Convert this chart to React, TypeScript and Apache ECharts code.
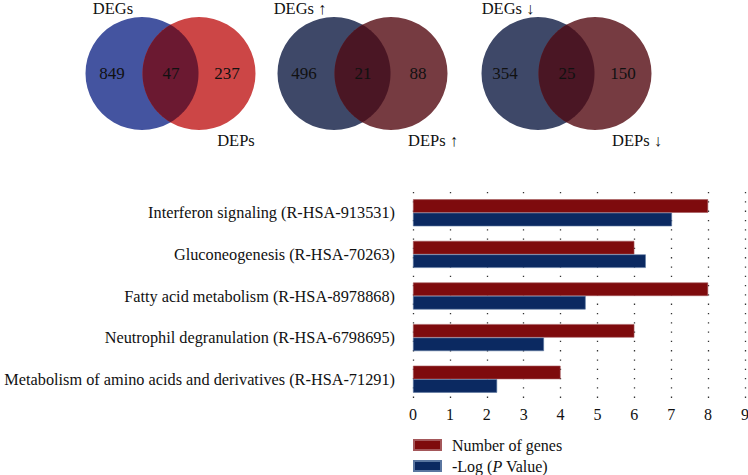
import React, { useEffect, useRef } from "react";
import * as echarts from "echarts";

const categories = [
  "Interferon signaling (R-HSA-913531)",
  "Gluconeogenesis (R-HSA-70263)",
  "Fatty acid metabolism (R-HSA-8978868)",
  "Neutrophil degranulation (R-HSA-6798695)",
  "Metabolism of amino acids and derivatives (R-HSA-71291)",
];
const numberOfGenes = [8, 6, 8, 6, 4];
const negLogP = [7.02, 6.31, 4.68, 3.55, 2.28];
const xTicks = [0, 9];
const seriesNames = ["Number of genes", "-Log (P Value)"];

const vennLeftLabels = ["DEGs", "DEGs \u2191", "DEGs \u2193"];
const vennRightLabels = ["DEPs", "DEPs \u2191", "DEPs \u2193"];
const vennLeftOnly = [849, 496, 354];
const vennShared = [47, 21, 25];
const vennRightOnly = [237, 88, 150];

const FONT = '"Liberation Serif", "DejaVu Serif", serif';

type VennLayout = {
  cxA: number;
  cxB: number;
  cy: number;
  r: number;
  colA: string;
  colB: string;
  colAB: string;
  leftLabelX: number;
  rightLabelX: number;
  nLeftX: number;
  nMidX: number;
  nRightX: number;
};

const vennLayouts: VennLayout[] = [
  { cxA: 142, cxB: 199, cy: 73.5, r: 56.5, colA: "#4454a0", colB: "#cc4646", colAB: "#6b1931", leftLabelX: 113, rightLabelX: 236, nLeftX: 112, nMidX: 171, nRightX: 227 },
  { cxA: 334, cxB: 391, cy: 73.5, r: 56.5, colA: "#3e4868", colB: "#763b41", colAB: "#4a1624", leftLabelX: 300, rightLabelX: 433, nLeftX: 304, nMidX: 363, nRightX: 418 },
  { cxA: 538, cxB: 595, cy: 73.5, r: 56.5, colA: "#3e4868", colB: "#763b41", colAB: "#4a1624", leftLabelX: 508, rightLabelX: 637, nLeftX: 505, nMidX: 567, nRightX: 623 },
];

function lensPoints(L: VennLayout): number[][] {
  const d = L.cxB - L.cxA;
  const theta = Math.acos(d / 2 / L.r);
  const pts: number[][] = [];
  const N = 60;
  for (let i = 0; i <= N; i++) {
    const a = -theta + (2 * theta * i) / N;
    pts.push([L.cxA + L.r * Math.cos(a), L.cy + L.r * Math.sin(a)]);
  }
  for (let i = 0; i <= N; i++) {
    const a = Math.PI - theta + (2 * theta * i) / N;
    pts.push([L.cxB + L.r * Math.cos(a), L.cy + L.r * Math.sin(a)]);
  }
  return pts;
}

function vennGraphics(): any[] {
  const els: any[] = [];
  vennLayouts.forEach((L, i) => {
    const txt = (x: number, y: number, s: string, size: number) => ({
      type: "text",
      x,
      y,
      style: {
        text: s,
        fill: "#111",
        font: `${size}px ${FONT}`,
        align: "center",
        verticalAlign: "middle",
      },
      z: 10,
    });
    els.push({ type: "circle", shape: { cx: L.cxA, cy: L.cy, r: L.r }, style: { fill: L.colA }, z: 1 });
    els.push({ type: "circle", shape: { cx: L.cxB, cy: L.cy, r: L.r }, style: { fill: L.colB }, z: 2 });
    els.push({ type: "polygon", shape: { points: lensPoints(L) }, style: { fill: L.colAB }, z: 3 });
    els.push(txt(L.leftLabelX, 8, vennLeftLabels[i], 16.5));
    els.push(txt(L.rightLabelX, 140, vennRightLabels[i], 16.5));
    els.push(txt(L.nLeftX, 73, String(vennLeftOnly[i]), 17));
    els.push(txt(L.nMidX, 73, String(vennShared[i]), 17));
    els.push(txt(L.nRightX, 73, String(vennRightOnly[i]), 17));
  });
  return els;
}

const legendText = {
  fontSize: 16,
  lineHeight: 16,
  color: "#111",
  fontFamily: FONT,
  padding: [0, 0, 0, 6],
  rich: { i: { fontStyle: "italic", fontSize: 16, lineHeight: 16, fontFamily: FONT, color: "#111" } },
};

export default function App() {
  const ref = useRef<HTMLDivElement>(null);
  useEffect(() => {
    if (!ref.current) return;
    const chart = echarts.init(ref.current, null, { renderer: "svg" });
    chart.setOption({
      animation: false,
      backgroundColor: "#ffffff",
      textStyle: { fontFamily: FONT },
      grid: { left: 413, right: 3, top: 192, bottom: 75, containLabel: false, outerBoundsMode: "none" },
      xAxis: {
        type: "value",
        min: xTicks[0],
        max: xTicks[1],
        interval: 1,
        axisLine: { show: false },
        axisTick: { show: false },
        axisLabel: { fontSize: 16, color: "#111", fontFamily: FONT, margin: 6 },
        splitLine: { show: true, lineStyle: { color: "#333", width: 1.3, type: [1.3, 8] } },
      },
      yAxis: {
        type: "category",
        inverse: true,
        data: categories,
        axisLine: { show: false },
        axisTick: { show: false },
        axisLabel: { fontSize: 16.3, color: "#111", fontFamily: FONT, margin: 18 },
        splitLine: { show: false },
      },
      legend: [
        {
          orient: "vertical",
          left: 413,
          top: 437,
          padding: 0,
          itemWidth: 27,
          itemHeight: 10,
          icon: "rect",
          data: [seriesNames[0]],
          textStyle: legendText,
        },
        {
          orient: "vertical",
          left: 413,
          top: 458,
          padding: 0,
          itemWidth: 27,
          itemHeight: 10,
          icon: "rect",
          data: [seriesNames[1]],
          formatter: () => "-Log ({i|P} Value)",
          textStyle: legendText,
        },
      ],
      series: [
        {
          name: seriesNames[0],
          type: "bar",
          data: numberOfGenes,
          barWidth: 13.5,
          barGap: "0%",
          itemStyle: { color: "#7e0b0d", borderColor: "#a4575a", borderWidth: 0.6 },
        },
        {
          name: seriesNames[1],
          type: "bar",
          data: negLogP,
          barWidth: 13.5,
          barGap: "0%",
          itemStyle: { color: "#0b2961", borderColor: "#5a76a0", borderWidth: 0.6 },
        },
      ],
      graphic: vennGraphics(),
    });
    return () => chart.dispose();
  }, []);
  return (
    <div
      ref={ref}
      style={{ position: "absolute", left: 0, top: 0, width: 748, height: 475, background: "#fff" }}
    />
  );
}
